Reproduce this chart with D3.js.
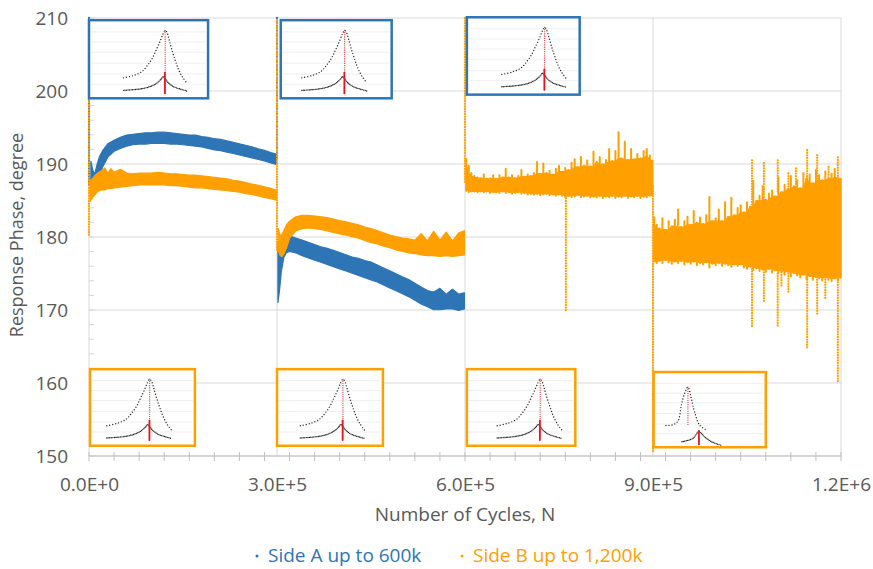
<!doctype html>
<html lang="en">
<head>
<meta charset="utf-8">
<title>Response Phase vs Number of Cycles</title>
<script src="https://d3js.org/d3.v7.min.js"></script>
<style>
  body { margin: 0; background: #fff; }
  svg { display: block; font-family: "Open Sans", sans-serif; }
</style>
</head>
<body>
<svg id="chart" width="873" height="569"></svg>

<script>
// readings off the scatter cloud: [cycles, lowest phase, highest phase]
var sideA_0to300k = [
  [3000,187.6,190.2],[6000,187.0,189.0],[9000,186.9,188.4],[13000,187.8,189.8],[17000,188.8,190.9],[22000,189.8,191.7],[30000,191.1,192.6],
  [40000,191.9,193.1],[50000,192.3,193.5],[60000,192.6,193.8],[70000,192.8,193.9],[80000,192.9,194.0],
  [90000,192.9,194.1],[100000,193.0,194.1],[110000,193.0,194.2],[120000,193.0,194.2],[130000,192.9,194.1],
  [140000,192.9,194.0],[150000,192.8,193.9],[160000,192.7,193.8],[170000,192.6,193.8],[180000,192.5,193.6],
  [190000,192.3,193.5],[200000,192.1,193.3],[210000,192.0,193.2],[220000,191.8,193.0],[230000,191.6,192.8],
  [240000,191.4,192.6],[250000,191.2,192.4],[260000,191.0,192.2],[270000,190.8,191.9],[280000,190.6,191.7],
  [290000,190.3,191.4],[299000,190.1,191.2]
];
var sideA_300to600k = [
  [301500,171.2,179.0],[304000,172.8,179.4],[307000,175.5,179.8],[311000,177.4,180.0],[315000,178.0,180.2],[320000,178.2,180.0],
  [330000,178.0,179.7],[340000,177.6,179.4],[350000,177.3,179.1],[360000,177.0,178.8],[370000,176.7,178.5],
  [380000,176.4,178.3],[390000,176.1,178.0],[400000,175.8,177.7],[410000,175.5,177.4],[420000,175.2,177.1],
  [430000,174.9,176.9],[440000,174.6,176.6],[450000,174.3,176.4],[460000,174.0,176.0],[470000,173.6,175.6],
  [480000,173.2,175.2],[490000,172.8,174.8],[500000,172.4,174.4],[510000,172.0,174.0],[520000,171.5,173.5],
  [530000,171.0,173.0],[540000,170.6,172.5],[550000,170.2,172.3],[560000,170.2,172.8],[570000,170.3,172.0],
  [580000,170.3,172.7],[590000,170.1,172.0],[599000,170.3,172.2]
];
var sideB_0to300k = [
  [1500,185.0,187.5],[6000,185.6,187.9],[10000,186.0,188.3],[14000,186.4,188.6],[20000,186.6,188.9],[25000,186.6,189.3],
  [30000,186.8,188.6],[35000,186.8,189.2],[40000,186.9,188.7],[50000,187.0,189.1],[60000,187.1,188.6],
  [70000,187.2,188.5],[80000,187.3,188.6],[90000,187.3,188.6],[100000,187.3,188.6],[110000,187.3,188.7],
  [120000,187.3,188.6],[130000,187.2,188.5],[140000,187.2,188.5],[150000,187.1,188.4],[160000,187.0,188.3],
  [170000,186.9,188.3],[180000,186.9,188.2],[190000,186.8,188.1],[200000,186.7,188.0],[210000,186.6,187.9],
  [220000,186.5,187.8],[230000,186.4,187.6],[240000,186.3,187.5],[250000,186.1,187.3],[260000,186.0,187.1],
  [270000,185.8,186.9],[280000,185.6,186.7],[290000,185.4,186.5],[299000,185.2,186.2]
];
var sideB_300to600k = [
  [302000,178.4,181.0],[305000,177.6,180.0],[308000,177.5,180.2],[312000,178.0,180.9],[316000,178.9,181.6],[320000,180.0,182.0],[330000,181.0,182.6],
  [340000,181.3,182.8],[350000,181.4,182.8],[360000,181.3,182.7],[370000,181.2,182.6],[380000,181.0,182.5],
  [390000,180.8,182.3],[400000,180.6,182.1],[410000,180.4,181.9],[420000,180.2,181.7],[430000,180.0,181.5],
  [440000,179.7,181.2],[450000,179.4,181.0],[460000,179.2,180.7],[470000,178.9,180.4],[480000,178.7,180.1],
  [490000,178.4,179.9],[500000,178.2,179.7],[510000,178.0,179.6],[520000,177.9,179.4],[530000,177.7,180.3],
  [540000,177.6,179.3],[550000,177.6,180.6],[560000,177.5,179.4],[570000,177.6,180.5],[580000,177.5,179.3],
  [590000,177.6,180.4],[599000,177.7,180.7]
];
var sideB_600to900k = [
  [602000,186.5,190.5],[606000,186.3,189.6],[610000,186.4,188.6],[615000,186.4,188.2],[620000,186.3,188.0],
  [625000,186.4,187.9],[630000,186.3,188.4],[635000,186.4,187.8],[640000,186.2,187.9],[645000,186.3,188.3],
  [650000,186.3,187.8],[655000,186.2,188.3],[660000,186.4,188.0],[665000,186.2,189.2],[670000,186.3,188.0],
  [675000,186.1,188.3],[680000,186.2,187.9],[685000,186.3,188.2],[690000,186.1,189.0],[695000,186.2,188.1],
  [700000,186.0,188.4],[705000,186.1,188.2],[710000,186.0,188.6],[715000,186.1,190.1],[720000,185.9,188.5],
  [725000,186.0,189.9],[730000,186.1,188.6],[735000,185.9,188.9],[740000,186.0,188.4],[745000,185.8,189.2],
  [750000,186.0,189.6],[755000,185.8,188.8],[760000,185.6,189.3],[765000,185.8,189.0],[770000,185.6,190.0],
  [775000,185.7,190.5],[780000,185.9,189.4],[785000,185.6,190.8],[790000,185.7,189.6],[795000,185.8,190.3],
  [800000,185.6,189.5],[805000,185.7,191.5],[810000,185.6,190.1],[815000,185.8,190.8],[820000,185.5,189.8],
  [825000,185.7,190.4],[830000,185.6,191.9],[835000,185.8,190.2],[840000,185.5,191.6],[845000,185.7,194.2],
  [850000,185.6,190.6],[855000,185.8,192.9],[860000,185.5,190.4],[865000,185.7,191.9],[870000,185.6,190.5],
  [875000,185.8,191.2],[880000,185.5,190.6],[885000,185.7,191.6],[890000,185.6,191.9],[895000,185.8,191.0],
  [899000,185.9,190.3]
];
var sideB_900to1200k = [
  [902000,176.8,182.5],[906000,176.6,181.5],[910000,176.9,181.0],[915000,176.6,182.4],[920000,177.0,180.8],
  [925000,176.7,182.0],[930000,176.5,181.3],[935000,176.8,182.2],[940000,176.6,183.6],[945000,176.9,181.2],
  [950000,176.4,182.0],[955000,176.7,182.6],[960000,176.5,181.5],[965000,176.8,183.4],[970000,176.3,181.8],
  [975000,176.6,182.5],[980000,176.4,181.6],[985000,176.7,182.8],[990000,176.0,185.3],[995000,176.5,182.0],
  [1000000,176.3,182.4],[1005000,176.6,183.6],[1010000,176.2,182.0],[1015000,176.5,184.6],[1020000,176.3,182.6],
  [1025000,176.1,185.2],[1030000,176.4,182.8],[1035000,176.2,183.8],[1040000,176.4,184.2],[1045000,176.0,183.2],
  [1050000,175.8,184.6],[1055000,176.1,184.0],[1060000,175.6,187.5],[1065000,175.9,184.8],[1070000,175.5,185.5],
  [1075000,175.7,186.8],[1080000,175.4,184.9],[1085000,175.8,185.8],[1090000,175.3,186.2],[1095000,175.6,185.4],
  [1100000,175.2,188.0],[1105000,175.5,186.0],[1110000,175.0,187.0],[1115000,175.4,186.4],[1120000,174.8,188.2],
  [1125000,175.2,186.8],[1130000,174.9,187.6],[1135000,174.6,186.5],[1140000,175.0,188.6],[1145000,174.4,187.9],
  [1150000,174.8,188.4],[1155000,174.3,187.2],[1160000,174.7,189.0],[1165000,174.5,188.3],[1170000,174.2,187.6],
  [1175000,174.6,188.8],[1180000,174.3,187.8],[1185000,174.1,188.5],[1190000,174.5,189.2],[1195000,174.2,188.0],
  [1199500,174.6,187.8]
];

// sparse vertical runs of single points: [cycles, low, high]
var sideA_runs = [[0,187,210],[300000,190.5,210]];
var sideB_runs = [
  [0,180,209.5],[300000,178,209.6],[600000,187.5,210],[761000,169.7,186],[900000,150.4,187],
  [1058000,167.8,176],[1058000,184,190.5],[1077000,170.9,175.5],[1077000,185,190.1],
  [1099000,167.6,175],[1099000,186,190.5],[1105000,173.2,175.5],[1116000,172.5,175],[1116000,186,188.7],
  [1128000,186,189.4],[1146000,164.8,174.5],[1146000,186,191.9],[1162000,169.5,174.5],[1162000,186,191.2],
  [1175000,171.4,174.5],[1180000,186,189.6],[1195000,160,174.5],[1195000,186,190.9]
];

var xTicks = [0, 300000, 600000, 900000, 1200000];
var yTicks = [150, 160, 170, 180, 190, 200, 210];
var seriesNames = ["Side A up to 600k", "Side B up to 1,200k"];

// resonance sweeps shown in the small pictures: [relative frequency, relative amplitude]
var sweepPeak = [[0,0.24],[0.15,0.275],[0.29,0.34],[0.38,0.44],[0.46,0.56],[0.52,0.69],[0.58,0.825],[0.625,0.94],
  [0.66,1.0],[0.69,0.96],[0.72,0.86],[0.76,0.71],[0.81,0.55],[0.865,0.39],[0.93,0.26],[1.0,0.16]];
var sweepBase = [[0,0.04],[0.15,0.05],[0.31,0.07],[0.42,0.10],[0.52,0.15],[0.6,0.225],[0.625,0.26],[0.66,0.225],
  [0.71,0.16],[0.79,0.10],[0.9,0.06],[1.0,0.03]];
var sweepRed = [[0.66,1.0,0.0],[0.655,0.32,-0.01]];
var lastPeak = [[0,0.32],[0.12,0.33],[0.22,0.40],[0.28,0.68],[0.34,0.89],[0.40,1.0],[0.46,0.8],[0.52,0.56],[0.61,0.33],[0.73,0.24]];
var lastBase = [[0.29,0.03],[0.49,0.09],[0.60,0.21],[0.70,0.12],[0.83,0.03],[1.0,-0.03]];
var lastRed = [[0.40,1.0,0.33],[0.60,0.22,-0.03]];

var blue = "#2e75b6", orange = "#ffa000", grey = "#595959";

var svg = d3.select("#chart"),
    margin = {top: 18, right: 32, bottom: 113, left: 89},
    width = +svg.attr("width") - margin.left - margin.right,
    height = +svg.attr("height") - margin.top - margin.bottom;

var x = d3.scaleLinear().domain([0, 1200000]).range([0, width]);
var y = d3.scaleLinear().domain([150, 210]).range([height, 0]);

var g = svg.append("g").attr("transform", "translate(" + margin.left + "," + margin.top + ")");

// grid
g.append("g").selectAll("line").data(yTicks).enter().append("line")
  .attr("x1", 0).attr("x2", width)
  .attr("y1", function(d) { return y(d); }).attr("y2", function(d) { return y(d); })
  .attr("stroke", "#d9d9d9");
g.append("g").selectAll("line").data(xTicks).enter().append("line")
  .attr("x1", function(d) { return x(d); }).attr("x2", function(d) { return x(d); })
  .attr("y1", 0).attr("y2", height)
  .attr("stroke", "#d9d9d9");

// minor ticks
g.append("g").selectAll("line").data(d3.range(0, 1200001, 40000)).enter().append("line")
  .attr("x1", function(d) { return x(d); }).attr("x2", function(d) { return x(d); })
  .attr("y1", height - 4).attr("y2", height + 5)
  .attr("stroke", "#bfbfbf");
g.append("g").selectAll("line").data(d3.range(150, 211, 2)).enter().append("line")
  .attr("x1", 0).attr("x2", 5)
  .attr("y1", function(d) { return y(d); }).attr("y2", function(d) { return y(d); })
  .attr("stroke", "#d6d6d6");
g.append("line").attr("x1", 0).attr("x2", width).attr("y1", height).attr("y2", height).attr("stroke", "#bfbfbf");

// the cloud is drawn as the area between low and high readings; in the noisy
// stretches the body uses the tighter neighbouring reading and each reading
// sticks out of it as a thin spike
function neighbours(data, i, k, pick) {
  var v = [data[i][k]];
  if (data[i - 1]) v.push(data[i - 1][k]);
  if (data[i + 1]) v.push(data[i + 1][k]);
  return pick(v);
}
function drawBand(data, color, noisy) {
  var body = d3.area()
    .x(function(d) { return x(d[0]); })
    .y0(function(d, i) { return y(noisy ? neighbours(data, i, 1, d3.max) : d[1]) + 1.2; })
    .y1(function(d, i) { return y(noisy ? neighbours(data, i, 2, d3.min) : d[2]) - 1.2; });
  g.append("path").datum(data).attr("d", body)
    .attr("fill", color).attr("stroke", color).attr("stroke-width", 1.2)
    .attr("stroke-linejoin", "round");
  if (!noisy) return;
  g.append("g").selectAll("line").data(data).enter().append("line")
    .attr("x1", function(d) { return x(d[0]); }).attr("x2", function(d) { return x(d[0]); })
    .attr("y1", function(d) { return y(d[2]) - 1.2; }).attr("y2", function(d) { return y(d[1]) + 1.2; })
    .attr("stroke", color).attr("stroke-width", 2).attr("stroke-linecap", "round");
}
function drawRuns(data, color) {
  g.append("g").selectAll("line").data(data).enter().append("line")
    .attr("x1", function(d) { return x(d[0]); }).attr("x2", function(d) { return x(d[0]); })
    .attr("y1", function(d) { return y(d[2]); }).attr("y2", function(d) { return y(d[1]); })
    .attr("stroke", color).attr("stroke-width", 2.3)
    .attr("stroke-linecap", "round").attr("stroke-dasharray", "0 2.6");
}

drawRuns(sideA_runs, blue);
drawBand(sideA_0to300k, blue);
drawBand(sideA_300to600k, blue);
drawRuns(sideB_runs, orange);
drawBand(sideB_0to300k, orange);
drawBand(sideB_300to600k, orange);
drawBand(sideB_600to900k, orange, true);
drawBand(sideB_900to1200k, orange, true);

// inset pictures, boxes given in chart units
var insets = [
  {c0: 0,      c1: 190000,  top: 209.7, bot: 199.0, color: blue,   left: 0.29, span: 0.53},
  {c0: 306000, c1: 483000,  top: 209.7, bot: 199.0, color: blue,   left: 0.19, span: 0.585},
  {c0: 603000, c1: 783000,  top: 210.1, bot: 199.5, color: blue,   left: 0.31, span: 0.575},
  {c0: 1600,   c1: 169000,  top: 161.9, bot: 151.4, color: orange, left: 0.16, span: 0.62},
  {c0: 300000, c1: 469000,  top: 161.9, bot: 151.4, color: orange, left: 0.22, span: 0.61},
  {c0: 603000, c1: 776000,  top: 161.9, bot: 151.4, color: orange, left: 0.28, span: 0.60},
  {c0: 901000, c1: 1080000, top: 161.5, bot: 151.2, color: orange, left: 0.11, span: 0.49, last: true}
];

insets.forEach(function(b) {
  var bx = x(b.c0), bw = x(b.c1) - x(b.c0), by = y(b.top), bh = y(b.bot) - y(b.top);
  var ig = g.append("g").attr("transform", "translate(" + bx + "," + by + ")");
  ig.append("rect").attr("width", bw).attr("height", bh).attr("fill", "#fff");
  ig.selectAll(".ig").data([0.15, 0.28, 0.41, 0.55, 0.69, 0.82]).enter().append("line")
    .attr("x1", 2).attr("x2", bw - 2)
    .attr("y1", function(d) { return d * bh; }).attr("y2", function(d) { return d * bh; })
    .attr("stroke", "#efefef");

  var top = b.last ? 0.2 : 0.13, bottom = b.last ? 0.95 : 0.93;
  var fx = d3.scaleLinear().domain([0, 1]).range([b.left * bw, (b.left + b.span) * bw]);
  var fy = d3.scaleLinear().domain([0, 1]).range([bottom * bh, top * bh]);
  var line = d3.line().x(function(d) { return fx(d[0]); }).y(function(d) { return fy(d[1]); })
    .curve(d3.curveCatmullRom);

  ig.append("path").attr("d", line(b.last ? lastPeak : sweepPeak))
    .attr("fill", "none").attr("stroke", "#222").attr("stroke-width", 1.4)
    .attr("stroke-linecap", "round").attr("stroke-dasharray", "0 3");
  ig.append("path").attr("d", line(b.last ? lastBase : sweepBase))
    .attr("fill", "none").attr("stroke", "#222").attr("stroke-width", 1.4)
    .attr("stroke-linecap", "round").attr("stroke-dasharray", "0 1.5");
  ig.selectAll(".red").data(b.last ? lastRed : sweepRed).enter().append("line")
    .attr("x1", function(d) { return fx(d[0]); }).attr("x2", function(d) { return fx(d[0]); })
    .attr("y1", function(d) { return fy(d[1]); }).attr("y2", function(d) { return fy(d[2]); })
    .attr("stroke", "#e8141c")
    .attr("stroke-width", function(d, i) { return i ? 2 : 1.2; })
    .attr("stroke-linecap", "round")
    .attr("stroke-dasharray", function(d, i) { return i ? "0 1.2" : "0 2.2"; });

  ig.append("rect").attr("width", bw).attr("height", bh)
    .attr("fill", "none").attr("stroke", b.color).attr("stroke-width", 2.5);
});

// axes
g.append("g")
  .call(d3.axisLeft(y).tickValues(yTicks).tickSize(0).tickPadding(21))
  .call(function(s) { s.select(".domain").remove(); })
  .selectAll("text").attr("fill", grey).style("font-size", "19px").style("font-family", "Open Sans");

g.append("g")
  .attr("transform", "translate(0," + height + ")")
  .call(d3.axisBottom(x).tickValues(xTicks).tickSize(0).tickPadding(22)
    .tickFormat(function(d) { return d3.format(".1e")(d).toUpperCase(); }))
  .call(function(s) { s.select(".domain").remove(); })
  .selectAll("text").attr("fill", grey).style("font-size", "19px").style("font-family", "Open Sans");

svg.append("text")
  .attr("transform", "translate(23," + (margin.top + height / 2 - 2) + ") rotate(-90)")
  .attr("text-anchor", "middle")
  .attr("fill", grey).style("font-size", "18px")
  .text("Response Phase, degree");

svg.append("text")
  .attr("x", margin.left + width / 2).attr("y", 521)
  .attr("text-anchor", "middle")
  .attr("fill", grey).style("font-size", "19px")
  .text("Number of Cycles, N");

// legend
var legend = svg.append("g").selectAll("g").data(seriesNames).enter().append("g")
  .attr("transform", function(d, i) { return "translate(" + (i ? 462 : 257) + ",556)"; });
legend.append("circle").attr("r", 1.5).attr("fill", function(d, i) { return i ? orange : blue; });
legend.append("text").attr("x", 11).attr("y", 6)
  .attr("fill", function(d, i) { return i ? orange : blue; })
  .style("font-size", "19px")
  .text(function(d) { return d; });
</script>
</body>
</html>
